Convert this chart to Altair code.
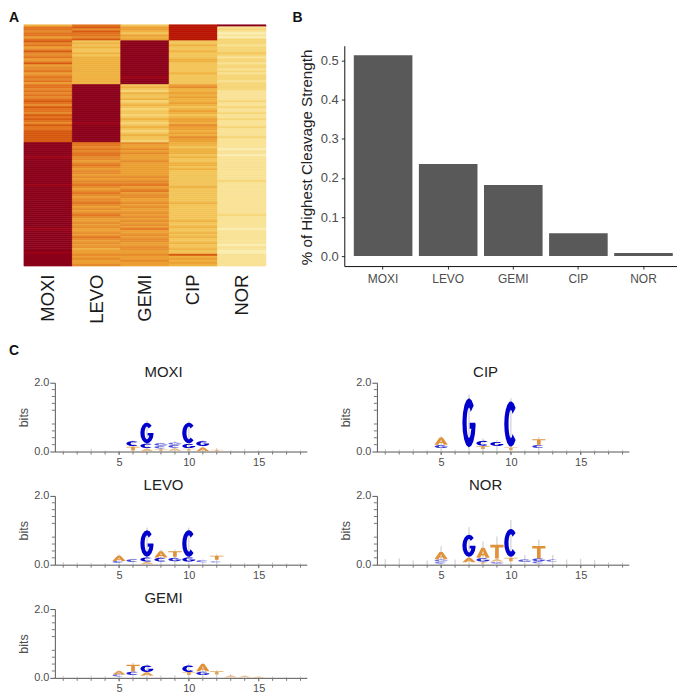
import math
import altair as alt
import pandas as pd

FONT = "Liberation Sans"
DRUGS = ["MOXI", "LEVO", "GEMI", "CIP", "NOR"]

# --- Panel A: heatmap levels, one list per column, read top to bottom
HEAT_MOXI = [4,7,7,6,7,7,5,7,
 8,6,7,5,6,8,6,6,7,5, 6,8,5,6,6,7,5,6,7,6, 7,5,
 7,7,6,7,6,7,6,7,8,7, 6,8,7,7,6,8,7,8,7,6, 8,7,7,8,8,8,8,8,8,
 10,10,10,10,10,10,10,9.6,10,10, 10,10,10,10,10,10,10,10,10,10,
 10,9.6,10,10,10,10,10,10,10,10, 10,10,10,10,10,10,10,10,10,10,
 10,10,10,9.6,10,10,10,10,10,10, 10,10,10,10,10,9.6,10,10,10,10, 10,10]
HEAT_LEVO = [7,8,6,8,7,7,6,8,
 3,4,3,4,3,3,4,3,4,4, 4,4,4,4,4,4,4,4,4,4, 4,4,
 10,10,10,10,10,10,10,10,10,10, 10,10,10,10,10,10,10,10,10,9.6, 10,10,10,10,10,10,10,10,10,
 7,7,6,7,6,7,7,6,6,5, 6,7,6,5,6,6,5,6,5,6, 6,7,6,5,6,7,6,5,6,6,
 7,6,5,6,5,6,7,6,5,5, 6,5,6,5,5,6,5,7,6,5, 6,5,6,4,5,5,6,5,6,5, 5,6]
HEAT_GEMI = [3,5,5,4,3,5,4,5,
 10,10,10,10,10,10,10,10,10,10, 10,10,10,10,10,10,10,10,9.6,10, 10,10,
 3,4,3,2,4,3,3,4,2,3, 4,3,2,3,3,2,3,4,3,2, 3,4,3,2,3,4,3,3,2,
 6,5,5,6,5,6,5,5,5,6, 5,5,5,5,5,5,5,6,5,6, 6,7,5,6,7,5,6,6,5,5,
 6,5,6,5,5,6,5,6,5,6, 5,6,5,7,5,5,6,5,6,6, 5,5,6,6,5,5,6,5,5,6, 5,5]
HEAT_CIP = [9,9,9,9,9,9,9,9,
 3,3,4,3,3,4,3,3,3,4, 4,3,3,3,3,3,4,3,3,3, 3,3,
 5,6,4,4,5,4,5,4,4,5, 4,3,4,5,4,3,4,5,5,4, 6,5,5,4,5,4,6,5,5,
 4,4,3,4,4,4,3,4,3,3, 4,4,3,4,3,3,3,3,3,3, 3,3,4,3,3,3,3,3,3,3,
 4,3,3,3,3,3,3,3,3,4, 3,3,4,3,3,4,3,4,3,3, 4,3,3,4,3,3,8,4,5,4, 5,4]
HEAT_NOR = [10,1,2,1,0,1,0,2,
 2,2,1,2,2,2,3,2,1,2, 2,1,2,2,1,2,1,2,2,2, 1,2,
 2,2,2,1,1,1,1,1,2,1, 1,2,1,1,2,1,1,2,1,1, 1,2,1,1,1,1,2,1,1,
 1,1,1,0,1,1,0,1,1,1, 1,1,1,1,1,1,1,1,1,2, 1,1,1,1,1,1,1,1,1,1,
 1,1,1,1,1,1,2,1,1,1, 1,1,1,0,1,1,1,1,1,1, 1,0,1,1,0,0,1,1,1,1, 1,1]
HEAT_LEVELS = list(range(11))
HEAT_COLORS = ["#FBEEB4","#F9E296","#F6D576","#F3C559","#EFB140","#ECA034",
               "#E68B2C","#E2741F","#D65A10","#B81400","#8B001A"]

# --- Panel B
BAR_VALUES = [0.514, 0.236, 0.182, 0.0587, 0.0077]

# --- Panel C: logo letters (position, letter, lower and upper bits) and error-bar tops
MOXI_POS = [6,6,7,7,7,8,8,8,9,9,9,10,10,10,11,11,12]
MOXI_LET = list("CTGCAGCTGCACGTGAT")
MOXI_LO  = [.16,.03,.24,.10,.01,.17,.09,.01,.20,.11,.02,.24,.10,.02,.16,.01,.00]
MOXI_HI  = [.30,.14,.84,.23,.08,.24,.16,.07,.26,.19,.09,.84,.22,.08,.30,.12,.05]
MOXI_ERR_POS = [1,2,3,4,5,6,7,8,9,10,11,12,13,14,15,16,17,18]
MOXI_ERR_TOP = [.03,.03,.08,.03,.03,.33,.90,.26,.30,.88,.33,.10,.04,.08,.04,.04,.03,.03]

LEVO_POS = [5,5,6,7,7,7,8,8,9,9,10,10,11,12,12]
LEVO_LET = list("ACCGCAACTGCGCTC")
LEVO_LO  = [.11,.05,.08,.23,.09,.01,.21,.09,.23,.10,.23,.09,.07,.14,.06]
LEVO_HI  = [.26,.11,.16,1.00,.21,.08,.39,.20,.39,.20,1.00,.21,.13,.26,.10]
LEVO_ERR_POS = [1,2,3,4,5,6,7,8,9,10,11,12,13,14,15,16,17,18]
LEVO_ERR_TOP = [.08,.06,.05,.04,.30,.18,1.08,.44,.44,1.08,.15,.30,.04,.05,.04,.07,.04,.04]

GEMI_POS = [5,5,6,6,7,7,10,10,11,11,12,13,14,15]
GEMI_LET = list("ACTCGACTAGTAAA")
GEMI_LO  = [.10,.04,.19,.08,.17,.06,.17,.08,.19,.08,.10,.01,.01,.00]
GEMI_HI  = [.20,.10,.38,.18,.36,.16,.36,.17,.40,.18,.19,.07,.06,.04]
GEMI_ERR_POS = [1,2,3,4,5,6,7,8,9,10,11,12,13,14,15,16,17,18]
GEMI_ERR_TOP = [.06,.03,.07,.05,.22,.44,.40,.07,.08,.42,.44,.22,.10,.06,.03,.04,.03,.04]

CIP_POS = [5,5,7,8,8,9,10,10,12,12]
CIP_LET = list("AGGCTGCTTC")
CIP_LO  = [.20,.10,.12,.17,.07,.16,.14,.04,.20,.10]
CIP_HI  = [.41,.19,1.55,.31,.16,.28,1.46,.12,.36,.19]
CIP_ERR_POS = [1,2,3,4,5,6,7,8,9,10,11,12,13,14,15,16,17,18]
CIP_ERR_TOP = [.07,.06,.07,.04,.45,.05,1.65,.38,.33,1.55,.05,.42,.04,.05,.05,.05,.05,.05]

NOR_POS = [5,5,5,7,7,8,8,8,9,9,9,10,10,11,12,12,12,13]
NOR_LET = list("AGCGAAGTTAGCTGTGCC")
NOR_LO  = [.16,.09,.03,.23,.07,.20,.09,.03,.18,.09,.03,.23,.10,.08,.18,.10,.04,.09]
NOR_HI  = [.37,.15,.08,.87,.20,.49,.19,.08,.58,.16,.08,1.04,.20,.15,.54,.18,.10,.15]
NOR_ERR_POS = [1,2,3,4,5,6,7,8,9,10,11,12,13,14,15,16,17,18]
NOR_ERR_TOP = [.16,.18,.12,.12,.54,.15,1.09,.68,.82,1.30,.28,.73,.28,.15,.17,.13,.07,.06]

X_MINOR = [1,2,3,4,5,6,7,8,9,10,11,12,13,14,15,16,17,18]
Y_MINOR = [.2,.4,.6,.8,1.2,1.4,1.6,1.8]

LOGO_LEFT = 31  # the panel starts where the heatmap starts; its y axis is inset by this much
LOGO_W, LOGO_H = 283.7, 69
PX_PER_BIT = LOGO_H / 2
GLYPH_W = 13.3


def arc(rx, ry, a0, a1, n=14):
    return [(.5 + rx * math.cos(math.radians(a0 + (a1 - a0) * i / n)),
             .5 + ry * math.sin(math.radians(a0 + (a1 - a0) * i / n))) for i in range(n + 1)]


OUTLINES = {
    "C": [arc(.5, .5, 45, 315) + arc(.18, .31, 315, 45)],
    "G": [arc(.5, .5, 45, 355) + [(.97, .5), (.55, .5), (.55, .38), (.68, .38)] + arc(.18, .31, 330, 45)],
    "A": [[(0, 0), (.3, 0), (.37, .22), (.63, .22), (.7, 0), (1, 0), (.62, 1), (.38, 1)],
          [(.43, .38), (.5, .72), (.57, .38)]],
    "T": [[(.36, 0), (.64, 0), (.64, .8), (1, .8), (1, 1), (0, 1), (0, .8), (.36, .8)]],
}


def glyph(letter, bits):
    """Outline of a letter stretched to its height in bits, used as a symbol shape."""
    h = bits * PX_PER_BIT
    parts = []
    for ring in OUTLINES[letter]:
        pts = [f"{(u - .5) * GLYPH_W:.2f},{-(v - .5) * h:.2f}" for u, v in ring]
        parts.append("M" + "L".join(pts) + "Z")
    return "".join(parts)


def tag_mark(text, x, y, size=14, weight="bold", color="#111111"):
    return alt.Chart(pd.DataFrame({"t": [text]})).mark_text(
        fontSize=size, fontWeight=weight, color=color, align="center", baseline="middle"
    ).encode(x=alt.value(x), y=alt.value(y), text="t:N")


def logo(name, pos, let, lo, hi, err_pos, err_top, tag=None):
    letters = pd.DataFrame({"pos": pos, "letter": let, "lo": lo, "hi": hi})
    letters["mid"] = (letters.lo + letters.hi) / 2
    letters["bits"] = letters.hi - letters.lo
    letters["glyph"] = [glyph(l, b) for l, b in zip(letters.letter, letters.bits)]
    errs = pd.DataFrame({"pos": err_pos, "top": err_top})
    x_scale = alt.Scale(domain=[0.4, 18.45], range=[LOGO_LEFT, LOGO_W], nice=False, zero=False)
    y_scale = alt.Scale(domain=[0, 2], nice=False)
    x_axis = alt.Axis(values=[5, 10, 15], format="d", title=None, grid=False,
                      tickSize=3, labelPadding=2, labelFontSize=11, labelColor="#4d4d4d",
                      tickColor="#777777", domainColor="#555555", labelFlush=False)
    y_axis = alt.Axis(values=[0, 1, 2], format=".1f", title="bits", grid=False,
                      tickSize=5, labelPadding=1, labelFontSize=11, labelColor="#4d4d4d",
                      tickColor="#555555", domainColor="#555555", titleFontSize=12.5,
                      titleFontWeight="normal", titleColor="#4d4d4d", titlePadding=3,
                      labelFlush=False, offset=-LOGO_LEFT)
    rules = alt.Chart(errs).mark_rule(color="#c8c8c8", strokeWidth=1).encode(
        x=alt.X("pos:Q", scale=x_scale, axis=x_axis),
        y=alt.Y("top:Q", scale=y_scale, axis=y_axis),
        y2=alt.datum(0),
    )
    x_minor = alt.Chart(pd.DataFrame({"pos": X_MINOR})).mark_rule(color="#777777", strokeWidth=1).encode(
        x=alt.X("pos:Q", scale=x_scale),
        y=alt.value(LOGO_H),
        y2=alt.value(LOGO_H + 3),
    )
    y_minor = alt.Chart(pd.DataFrame({"bits": Y_MINOR})).mark_rule(color="#777777", strokeWidth=1).encode(
        y=alt.Y("bits:Q", scale=y_scale),
        x=alt.value(LOGO_LEFT - 3),
        x2=alt.value(LOGO_LEFT),
    )
    points = alt.Chart(letters).mark_point(filled=True, size=4, strokeWidth=0).encode(
        x=alt.X("pos:Q", scale=x_scale),
        y=alt.Y("mid:Q", scale=y_scale),
        shape=alt.Shape("glyph:N", scale=None),
        color=alt.Color("letter:N", legend=None,
                        scale=alt.Scale(domain=["A", "C", "G", "T"],
                                        range=["#E0923A", "#0000CC", "#0000CC", "#E0923A"])),
        opacity=alt.Opacity("bits:Q", legend=None,
                            scale=alt.Scale(domain=[.03, .12], range=[.4, 1], clamp=True)),
    )
    layers = [rules, x_minor, y_minor, points,
              tag_mark(name, 140, -11, size=15, weight="normal", color="#222222")]
    if tag:
        layers.append(tag_mark(tag, -10, -32))
    return alt.layer(*layers).properties(width=LOGO_W, height=LOGO_H)


# Panel A
heat_cols = [HEAT_MOXI, HEAT_LEVO, HEAT_GEMI, HEAT_CIP, HEAT_NOR]
assert all(len(c) == 121 for c in heat_cols), [len(c) for c in heat_cols]
heat = pd.DataFrame(
    [{"drug": d, "row": i, "level": v} for d, col in zip(DRUGS, heat_cols) for i, v in enumerate(col)]
)
heat_scale = alt.Scale(domain=HEAT_LEVELS, range=HEAT_COLORS)
heat_rect = alt.Chart(heat).mark_rect(strokeWidth=0.6).encode(
    x=alt.X("drug:N", sort=DRUGS, title=None, scale=alt.Scale(padding=0),
            axis=alt.Axis(labelAngle=-90, labelFontSize=18.5, labelColor="#1a1a1a", ticks=False,
                          domain=False, labelPadding=8, labelBaseline="middle")),
    y=alt.Y("row:O", axis=None, scale=alt.Scale(padding=0)),
    color=alt.Color("level:Q", legend=None, scale=heat_scale),
    stroke=alt.Stroke("level:Q", legend=None, scale=heat_scale),
)
panel_a = alt.layer(heat_rect, tag_mark("A", -10, -7)).properties(width=242.7, height=242)

# Panel B
bars = pd.DataFrame({"drug": DRUGS, "value": BAR_VALUES})
bar_marks = alt.Chart(bars).mark_bar(color="#595959").encode(
    x=alt.X("drug:N", sort=DRUGS, title=None,
            scale=alt.Scale(paddingInner=.1, paddingOuter=.146),
            axis=alt.Axis(labelAngle=0, labelFontSize=12, labelColor="#4d4d4d", tickSize=3,
                          tickColor="#333333", domainColor="#111111", labelPadding=4)),
    y=alt.Y("value:Q", title="% of Highest Cleavage Strength",
            scale=alt.Scale(domain=[-0.0255, 0.5385], range=[242, 21], nice=False, zero=False),
            axis=alt.Axis(values=[0, .1, .2, .3, .4, .5], format=".1f", grid=False, labelFontSize=13,
                          labelColor="#4d4d4d", tickSize=3, tickColor="#333333", domainColor="#111111",
                          titleFontSize=15.2, titleFontWeight="normal", titleColor="#222222",
                          labelPadding=3, titlePadding=5.5, titleY=132.5)),
)
panel_b = alt.layer(bar_marks, tag_mark("B", -47, -7)).properties(width=339, height=242)

row1 = alt.hconcat(panel_a, panel_b, spacing=78.3).properties(bounds="flush")

row2 = alt.concat(
    logo("MOXI", MOXI_POS, MOXI_LET, MOXI_LO, MOXI_HI, MOXI_ERR_POS, MOXI_ERR_TOP, tag="C"),
    logo("CIP", CIP_POS, CIP_LET, CIP_LO, CIP_HI, CIP_ERR_POS, CIP_ERR_TOP),
    logo("LEVO", LEVO_POS, LEVO_LET, LEVO_LO, LEVO_HI, LEVO_ERR_POS, LEVO_ERR_TOP),
    logo("NOR", NOR_POS, NOR_LET, NOR_LO, NOR_HI, NOR_ERR_POS, NOR_ERR_TOP),
    logo("GEMI", GEMI_POS, GEMI_LET, GEMI_LO, GEMI_HI, GEMI_ERR_POS, GEMI_ERR_TOP),
    columns=2, spacing={"row": 44.5, "column": 39},
).properties(bounds="flush")

chart = alt.vconcat(row1, row2, spacing=20).properties(
    padding={"left": 0, "top": 1.8, "right": -6, "bottom": 14}
).configure(font=FONT, view=alt.ViewConfig(strokeWidth=0, stroke=None))

chart.save("out.html", embed_options={"renderer": "svg", "actions": False})
